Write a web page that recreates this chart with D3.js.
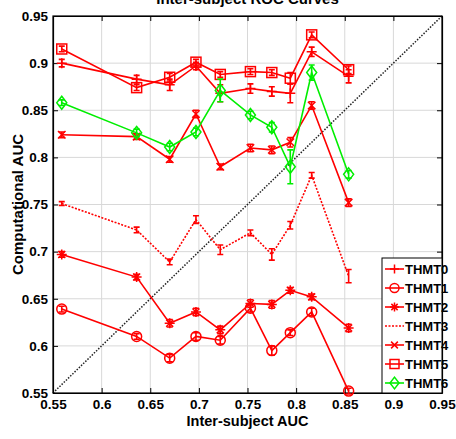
<!DOCTYPE html>
<html>
<head>
<meta charset="utf-8">
<script src="https://cdn.jsdelivr.net/npm/d3@7"></script>
<style>
body { margin: 0; background: #fff; }
text { font-family: "Liberation Sans Narrow", "Liberation Sans", Arial, sans-serif; font-weight: bold; }
</style>
</head>
<body>
<div id="chart"></div>
<script>
// x positions (inter-subject AUC)
const interAUC = [0.559, 0.636, 0.670, 0.697, 0.722, 0.753, 0.775, 0.794, 0.816, 0.854];
const seriesNames = ['THMT0', 'THMT1', 'THMT2', 'THMT3', 'THMT4', 'THMT5', 'THMT6'];
const thmt0 = [0.900, 0.883, 0.877, 0.897, 0.868, 0.873, 0.870, 0.868, 0.912, 0.886];
const thmt1 = [0.639, 0.610, 0.587, 0.610, 0.606, 0.640, 0.595, 0.614, 0.636, 0.552];
const thmt2 = [0.697, 0.673, 0.624, 0.636, 0.617, 0.645, 0.644, 0.659, 0.652, 0.619];
const thmt3 = [0.751, 0.723, 0.689, 0.734, 0.702, 0.720, 0.697, 0.728, 0.781, 0.674];
const thmt4 = [0.824, 0.822, 0.798, 0.846, 0.790, 0.810, 0.808, 0.816, 0.855, 0.752];
const thmt5 = [0.915, 0.874, 0.885, 0.901, 0.888, 0.891, 0.890, 0.884, 0.930, 0.893];
const thmt6 = [0.858, 0.826, 0.811, 0.827, 0.871, 0.845, 0.832, 0.790, 0.890, 0.782];
// error bar half widths
const err0 = [0.004, 0.004, 0.006, 0.004, 0.009, 0.005, 0.005, 0.010, 0.005, 0.007];
const err1 = [0.003, 0.003, 0.004, 0.004, 0.004, 0.004, 0.005, 0.003, 0.004, 0.003];
const err2 = [0.003, 0.003, 0.004, 0.004, 0.004, 0.004, 0.004, 0.003, 0.003, 0.004];
const err3 = [0.002, 0.003, 0.003, 0.004, 0.005, 0.003, 0.006, 0.004, 0.003, 0.007];
const err4 = [0.003, 0.003, 0.003, 0.004, 0.003, 0.004, 0.004, 0.005, 0.004, 0.004];
const err5 = [0.003, 0.003, 0.004, 0.003, 0.003, 0.003, 0.003, 0.006, 0.003, 0.004];
const err6 = [0.003, 0.004, 0.004, 0.004, 0.012, 0.004, 0.005, 0.018, 0.008, 0.004];
const xTicks = [0.55, 0.6, 0.65, 0.7, 0.75, 0.8, 0.85, 0.9, 0.95];
const yTicks = [0.55, 0.6, 0.65, 0.7, 0.75, 0.8, 0.85, 0.9, 0.95];

const series = [
	{name: seriesNames[0], vals: thmt0, err: err0, color: 'red', marker: 'plus', dash: null},
	{name: seriesNames[1], vals: thmt1, err: err1, color: 'red', marker: 'circle', dash: null},
	{name: seriesNames[2], vals: thmt2, err: err2, color: 'red', marker: 'star', dash: null},
	{name: seriesNames[3], vals: thmt3, err: err3, color: 'red', marker: 'none', dash: '2,1.5'},
	{name: seriesNames[4], vals: thmt4, err: err4, color: 'red', marker: 'x', dash: null},
	{name: seriesNames[5], vals: thmt5, err: err5, color: 'red', marker: 'square', dash: null},
	{name: seriesNames[6], vals: thmt6, err: err6, color: '#00ee00', marker: 'diamond', dash: null}
];

const width = 456, height = 439;
const margin = {top: 16, right: 14, bottom: 46, left: 53};
const w = width - margin.left - margin.right;
const h = height - margin.top - margin.bottom;

const svg = d3.select('#chart').append('svg')
	.attr('width', width)
	.attr('height', height);

const g = svg.append('g')
	.attr('transform', `translate(${margin.left},${margin.top})`);

const xScale = d3.scaleLinear().domain([0.55, 0.95]).range([0, w]);
const yScale = d3.scaleLinear().domain([0.55, 0.95]).range([h, 0]);

//grid
g.append('g').selectAll('line.vg')
	.data(xTicks.slice(1, -1))
	.join('line')
	.attr('x1', d => xScale(d)).attr('x2', d => xScale(d))
	.attr('y1', 0).attr('y2', h)
	.attr('stroke', '#d8d8d8').attr('stroke-width', 1);
g.append('g').selectAll('line.hg')
	.data(yTicks.slice(1, -1))
	.join('line')
	.attr('x1', 0).attr('x2', w)
	.attr('y1', d => yScale(d)).attr('y2', d => yScale(d))
	.attr('stroke', '#d8d8d8').attr('stroke-width', 1);

//diagonal
g.append('line')
	.attr('x1', xScale(0.55)).attr('y1', yScale(0.55))
	.attr('x2', xScale(0.95)).attr('y2', yScale(0.95))
	.attr('stroke', '#222').attr('stroke-width', 1.5)
	.attr('stroke-dasharray', '1.5,1.5');

//axes (ticks inside)
const fmt = d => d3.format('')(+d.toFixed(2));
g.append('g')
	.attr('class', 'x-axis')
	.attr('transform', `translate(0,${h})`)
	.call(d3.axisBottom(xScale).tickValues(xTicks).tickSizeInner(-5).tickSizeOuter(0).tickPadding(6).tickFormat(fmt));
g.append('g')
	.attr('class', 'y-axis')
	.call(d3.axisLeft(yScale).tickValues(yTicks).tickSizeInner(-5).tickSizeOuter(0).tickPadding(5).tickFormat(fmt));
g.append('g')
	.attr('transform', `translate(${w},0)`)
	.call(d3.axisRight(yScale).tickValues(yTicks).tickSizeInner(-5).tickSizeOuter(0).tickFormat(''));
g.append('g')
	.call(d3.axisTop(xScale).tickValues(xTicks).tickSizeInner(-5).tickSizeOuter(0).tickFormat(''));

g.selectAll('.tick text')
	.attr('font-size', 13.5)
	.attr('font-weight', 'bold')
	.attr('fill', '#000')
	.attr('font-family', '"Liberation Sans Narrow", "Liberation Sans", Arial, sans-serif');
g.selectAll('.domain').attr('stroke', '#000').attr('stroke-width', 1.2);

g.append('rect')
	.attr('width', w).attr('height', h)
	.attr('fill', 'none').attr('stroke', '#000').attr('stroke-width', 1.2);

//marker drawing
function drawMarker(sel, type, color, s) {
	if (type === 'plus') {
		sel.append('path').attr('d', `M${-s},0H${s}M0,${-s}V${s}`);
	} else if (type === 'circle') {
		sel.append('circle').attr('r', s);
	} else if (type === 'star') {
		const d = s * 0.7;
		sel.append('path').attr('d', `M${-s},0H${s}M0,${-s}V${s}M${-d},${-d}L${d},${d}M${-d},${d}L${d},${-d}`);
	} else if (type === 'x') {
		const d = s * 0.75;
		sel.append('path').attr('d', `M${-d},${-d}L${d},${d}M${-d},${d}L${d},${-d}`);
	} else if (type === 'square') {
		sel.append('rect').attr('x', -s).attr('y', -s).attr('width', 2 * s).attr('height', 2 * s);
	} else if (type === 'diamond') {
		sel.append('path').attr('d', `M0,${-s * 1.3}L${s},0L0,${s * 1.3}L${-s},0Z`);
	}
	sel.selectAll('*').attr('fill', 'none').attr('stroke', color).attr('stroke-width', 1.5);
}

const line = d3.line().x(d => xScale(d[0])).y(d => yScale(d[1]));

series.forEach(s => {
	const pts = interAUC.map((x, i) => [x, s.vals[i], s.err[i]]);
	const sg = g.append('g');
	sg.append('path')
		.datum(pts)
		.attr('d', line)
		.attr('fill', 'none')
		.attr('stroke', s.color)
		.attr('stroke-width', 1.6)
		.attr('stroke-dasharray', s.dash);
	//error bars
	const eb = sg.selectAll('g.eb').data(pts).join('g').attr('class', 'eb');
	eb.append('path')
		.attr('d', d => {
			const x = xScale(d[0]), y1 = yScale(d[1] - d[2]), y2 = yScale(d[1] + d[2]);
			return `M${x},${y1}V${y2}M${x - 3},${y1}H${x + 3}M${x - 3},${y2}H${x + 3}`;
		})
		.attr('fill', 'none').attr('stroke', s.color).attr('stroke-width', 1.6);
	sg.selectAll('g.mk').data(pts).join('g')
		.attr('class', 'mk')
		.attr('transform', d => `translate(${xScale(d[0])},${yScale(d[1])})`)
		.each(function() { drawMarker(d3.select(this), s.marker, s.color, 5); });
});

//legend
const lg = g.append('g').attr('transform', `translate(${w - 60},${h - 135})`);
lg.append('rect').attr('width', 60).attr('height', 135)
	.attr('fill', '#fff').attr('stroke', '#000').attr('stroke-width', 1);
series.forEach((s, i) => {
	const y = 11 + i * 19;
	const item = lg.append('g').attr('transform', `translate(0,${y})`);
	item.append('line').attr('x1', 3).attr('x2', 22).attr('y1', 0).attr('y2', 0)
		.attr('stroke', s.color).attr('stroke-width', 1.6).attr('stroke-dasharray', s.dash);
	const m = item.append('g').attr('transform', 'translate(12.5,0)');
	drawMarker(m, s.marker, s.color, 4.5);
	item.append('text').attr('x', 23).attr('y', 5)
		.attr('font-size', 13).text(s.name);
});

//title and labels
svg.append('text')
	.attr('x', margin.left + w / 2).attr('y', 4)
	.attr('text-anchor', 'middle').attr('font-size', 15)
	.text('Inter-subject ROC Curves');
svg.append('text')
	.attr('x', margin.left + w / 2).attr('y', 426)
	.attr('text-anchor', 'middle').attr('font-size', 14.5)
	.text('Inter-subject AUC');
svg.append('text')
	.attr('transform', `translate(23,${margin.top + h / 2}) rotate(-90)`)
	.attr('text-anchor', 'middle').attr('font-size', 15)
	.text('Computational AUC');
</script>
</body>
</html>
